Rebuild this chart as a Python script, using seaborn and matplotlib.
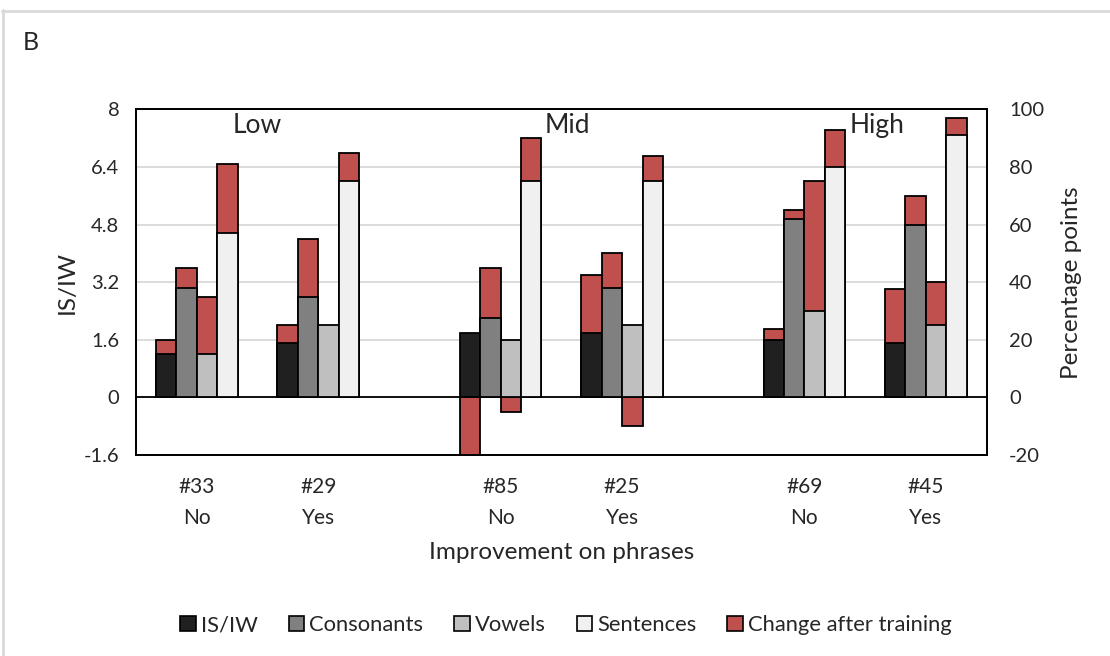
import numpy as np
import pandas as pd
import matplotlib
matplotlib.use("Agg")
import matplotlib.pyplot as plt
from matplotlib.patches import Patch
from matplotlib.lines import Line2D
import seaborn as sns

# ---------------- data ----------------
participants = ["#33", "#29", "#85", "#25", "#69", "#45"]
improvement = ["No", "Yes", "No", "Yes", "No", "Yes"]
levels = ["Low", "Mid", "High"]

isiw_base = [1.2, 1.5, 1.8, 1.8, 1.6, 1.5]
isiw_change = [0.4, 0.5, -1.8, 1.6, 0.3, 1.5]
cons_base = [38, 35, 27.5, 38, 62, 60]
cons_change = [7, 20, 17.5, 12, 3, 10]
vow_base = [15, 25, 20, 25, 30, 25]
vow_change = [20, 0, -5, -10, 45, 15]
sent_base = [57, 75, 75, 75, 80, 91]
sent_change = [24, 10, 15, 9, 13, 6]

series_names = ["IS/IW", "Consonants", "Vowels", "Sentences", "Change after training"]
colors = {"IS/IW": "#202020", "Consonants": "#808080", "Vowels": "#bfbfbf",
          "Sentences": "#f0f0f0", "Change after training": "#c0504d"}

# ---------------- style ----------------
sns.set_theme(style="white")
plt.rcParams['font.family'] = ['Lato', 'DejaVu Sans']
FS = 14.5
LFS = 17.5

fig = plt.figure(figsize=(11.1, 6.56), dpi=100)
ax = fig.add_axes([0.1225, 0.3064, 0.7664, 0.5267])
ax2 = ax.twinx()

# layout: group centres with gaps between levels
centres = np.array([1 + 5 * (i // 2) + 2 * (i % 2) for i in range(len(participants))], dtype=float)
bw = 0.336
offsets = np.array([-1.5, -0.5, 0.5, 1.5]) * bw


def draw(axis, xpos, base, change, color):
    base = np.asarray(base, dtype=float)
    change = np.asarray(change, dtype=float)
    top = np.where(change > 0, base + change, change)
    df_top = pd.DataFrame({"x": xpos, "y": top})
    df_base = pd.DataFrame({"x": xpos, "y": base})
    kw = dict(x="x", y="y", native_scale=True, width=bw / 2.0, errorbar=None,
              edgecolor="black", linewidth=1.3, ax=axis, legend=False)
    sns.barplot(data=df_top, color=colors["Change after training"], saturation=1, **kw)
    sns.barplot(data=df_base, color=color, saturation=1, **kw)


draw(ax, centres + offsets[0], isiw_base, isiw_change, colors["IS/IW"])
draw(ax2, centres + offsets[1], cons_base, cons_change, colors["Consonants"])
draw(ax2, centres + offsets[2], vow_base, vow_change, colors["Vowels"])
draw(ax2, centres + offsets[3], sent_base, sent_change, colors["Sentences"])

# axes limits & ticks
ax.set_xlim(0, 14)
ax2.set_xlim(0, 14)
ax.set_ylim(-1.6, 8)
ax2.set_ylim(-20, 100)
lticks = [-1.6, 0, 1.6, 3.2, 4.8, 6.4, 8]
ax.set_yticks(lticks)
ax.set_yticklabels(["-1.6", "0", "1.6", "3.2", "4.8", "6.4", "8"], fontsize=FS)
ax2.set_yticks([-20, 0, 20, 40, 60, 80, 100])
ax2.set_yticklabels(["-20", "0", "20", "40", "60", "80", "100"], fontsize=FS)
ax.set_xticks(centres)
ax.set_xticklabels([f"{p}\n{i}" for p, i in zip(participants, improvement)],
                   fontsize=FS + 0.5, linespacing=1.65)
ax.tick_params(axis="y", length=0, pad=12)
ax.tick_params(axis="x", length=0, pad=16)
ax2.tick_params(axis="y", length=0, pad=16)
ax2.tick_params(axis="x", length=0, labelbottom=False)

ax.set_axisbelow(True)
ax.yaxis.grid(True, color="#d9d9d9", linewidth=1.3)
ax.xaxis.grid(False)
ax2.grid(False)
ax.axhline(0, color="black", linewidth=1.3, zorder=1)
for a in (ax, ax2):
    for s in a.spines.values():
        s.set_color("black")
        s.set_linewidth(1.3)

ax.set_ylabel("IS/IW", fontsize=LFS, labelpad=4)
ax2.set_ylabel("Percentage points", fontsize=LFS, labelpad=12)
ax.set_xlabel("Improvement on phrases", fontsize=LFS, labelpad=10)

for lvl, xl in zip(levels, [2.0, 7.1, 12.2]):
    ax.text(xl, 7.56, lvl, fontsize=19, ha="center", va="center")

fig.text(23 / 1110, 1 - 43 / 656, "B", fontsize=18, ha="left", va="center")

handles = [Patch(facecolor=colors[n], edgecolor="black", linewidth=1.2, label=n) for n in series_names]
fig.legend(handles=handles, loc="center", bbox_to_anchor=(0.51, 1 - 625 / 656), ncol=5,
           frameon=False, fontsize=15.8, handlelength=0.7, handleheight=0.7,
           handletextpad=0.25, columnspacing=1.4)

# outer frame lines
fig.add_artist(Line2D([2 / 1110, 1], [1 - 10.5 / 656] * 2, color="#d9d9d9", linewidth=2,
                      transform=fig.transFigure))
fig.add_artist(Line2D([2.5 / 1110] * 2, [0, 1 - 10 / 656], color="#d9d9d9", linewidth=2,
                      transform=fig.transFigure))

fig.savefig("out.png", dpi=100)
